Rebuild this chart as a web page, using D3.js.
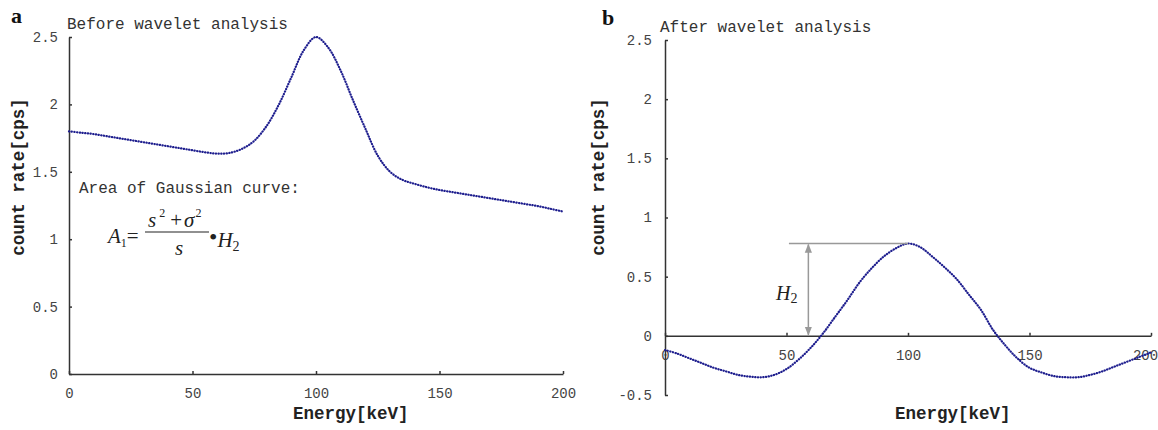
<!DOCTYPE html>
<html>
<head>
<meta charset="utf-8">
<script src="https://d3js.org/d3.v7.min.js"></script>
<style>
body { margin: 0; background: #fff; }
svg { display: block; }
.axis path, .axis line { stroke: #333; stroke-width: 1.5; fill: none; }
.axis text { font-family: "Liberation Mono", monospace; font-size: 14px; fill: #444; }
.title { font-family: "Liberation Mono", monospace; font-size: 16px; fill: #333; }
.alabel { font-family: "Liberation Mono", monospace; font-size: 17.5px; font-weight: bold; fill: #222; }
.panel { font-family: "Liberation Serif", serif; font-size: 22px; font-weight: bold; fill: #111; }
.math { font-family: "Liberation Serif", serif; font-style: italic; fill: #222; }
.curve { fill: none; stroke: #1e1e8e; stroke-width: 2.2; stroke-linecap: round; stroke-dasharray: 0.3 2.4; }
</style>
</head>
<body>
<script>

// energy axis (keV), one sample every 5 keV
var energy = d3.range(0, 201, 5);

// panel a: spectrum before wavelet analysis
var before = [1.80, 1.79, 1.78, 1.765, 1.75, 1.735, 1.72, 1.705, 1.69, 1.675,
              1.66, 1.645, 1.635, 1.64, 1.67, 1.73, 1.84, 2.0, 2.2, 2.4,
              2.5, 2.42, 2.25, 2.03, 1.82, 1.62, 1.5, 1.44, 1.41, 1.385,
              1.365, 1.35, 1.335, 1.32, 1.305, 1.29, 1.275, 1.26, 1.245, 1.225, 1.205];

// panel b: after wavelet analysis
var after = [-0.12, -0.15, -0.19, -0.23, -0.27, -0.30, -0.33, -0.345, -0.35, -0.33,
             -0.28, -0.20, -0.10, 0.02, 0.16, 0.30, 0.45, 0.57, 0.67, 0.74,
             0.78, 0.75, 0.67, 0.58, 0.48, 0.35, 0.22, 0.05, -0.08, -0.19,
             -0.27, -0.31, -0.34, -0.35, -0.35, -0.33, -0.30, -0.26, -0.22, -0.18, -0.14];

var xTicks = [0, 50, 100, 150, 200];
var yTicksA = [0, 0.5, 1, 1.5, 2, 2.5];
var yTicksB = [-0.5, 0, 0.5, 1, 1.5, 2, 2.5];

// H2 marker in panel b (energy of the arrow and start of the guide line)
var h2Arrow = 59, h2LineFrom = 51;

var svg = d3.select("body").append("svg")
    .attr("width", 1158)
    .attr("height", 430);

var defs = svg.append("defs");
defs.append("marker")
    .attr("id", "ah")
    .attr("viewBox", "0 0 10 10")
    .attr("refX", 9).attr("refY", 5)
    .attr("markerWidth", 9).attr("markerHeight", 9)
    .attr("markerUnits", "userSpaceOnUse")
    .attr("orient", "auto-start-reverse")
  .append("path")
    .attr("d", "M0,1 L10,5 L0,9 Z")
    .attr("fill", "#999");

var xa = d3.scaleLinear().domain([0, 200]).range([69, 563]),
    ya = d3.scaleLinear().domain([0, 2.5]).range([374, 37]);
var xb = d3.scaleLinear().domain([0, 200]).range([665, 1151]),
    yb = d3.scaleLinear().domain([-0.5, 2.5]).range([395, 40]);

function fmt(d) { return String(d); }

function drawPanel(x, y, yTicks, values, xPad, yPad) {
  var g = svg.append("g");

  var gx = g.append("g")
      .attr("class", "axis")
      .attr("transform", "translate(0," + y(0) + ")")
      .call(d3.axisBottom(x).tickValues(xTicks).tickFormat(fmt)
            .tickSizeInner(-3).tickSizeOuter(0).tickPadding(xPad));

  // keep the last label inside the picture
  gx.selectAll(".tick text").filter(function(d) { return d === 200; })
      .attr("dx", x(200) > 1100 ? -6 : 0);

  g.append("g")
      .attr("class", "axis")
      .attr("transform", "translate(" + x(0) + ",0)")
      .call(d3.axisLeft(y).tickValues(yTicks).tickFormat(fmt)
            .tickSizeInner(-3).tickSizeOuter(0).tickPadding(yPad));

  var line = d3.line()
      .x(function(d, i) { return x(energy[i]); })
      .y(function(d) { return y(d); })
      .curve(d3.curveCatmullRom.alpha(0.5));

  g.append("path")
      .datum(values)
      .attr("class", "curve")
      .attr("d", line);
  return g;
}

drawPanel(xa, ya, yTicksA, before, 14, 11);
drawPanel(xb, yb, yTicksB, after, 14, 13);

// panel letters and titles
svg.append("text").attr("class", "panel").attr("x", 11).attr("y", 23).text("a");
svg.append("text").attr("class", "panel").attr("x", 602).attr("y", 25).text("b");
svg.append("text").attr("class", "title").attr("x", 67).attr("y", 29).text("Before wavelet analysis");
svg.append("text").attr("class", "title").attr("x", 660).attr("y", 32).text("After wavelet analysis");

// axis labels
svg.append("text").attr("class", "alabel").attr("x", 293).attr("y", 419).text("Energy[keV]");
svg.append("text").attr("class", "alabel").attr("x", 895).attr("y", 419).text("Energy[keV]");
[24, 604].forEach(function(cx) {
  svg.append("text")
      .attr("class", "alabel")
      .attr("text-anchor", "middle")
      .attr("transform", "translate(" + cx + ",177) rotate(-90)")
      .text("count rate[cps]");
});

// panel a: area formula
svg.append("text").attr("class", "title").attr("x", 79).attr("y", 193).text("Area of Gaussian curve:");

var f = svg.append("g").attr("class", "math");
var t1 = f.append("text").attr("x", 108).attr("y", 243).style("font-size", "21px");
t1.append("tspan").text("A");
t1.append("tspan").attr("dy", 4).style("font-size", "12px").style("font-style", "normal").text("1");
t1.append("tspan").attr("dy", -4).style("font-style", "normal").text("=");

var num = f.append("text").attr("x", 148).attr("y", 227).style("font-size", "21px");
num.append("tspan").text("s");
num.append("tspan").attr("dy", -10).attr("dx", 3).style("font-size", "12px").style("font-style", "normal").text("2");
num.append("tspan").attr("dy", 10).attr("dx", 5).style("font-style", "normal").text("+");
num.append("tspan").attr("dx", 2).text("σ");
num.append("tspan").attr("dy", -10).attr("dx", 1).style("font-size", "12px").style("font-style", "normal").text("2");

f.append("line")
    .attr("x1", 145).attr("x2", 209)
    .attr("y1", 232).attr("y2", 232)
    .attr("stroke", "#222").attr("stroke-width", 1.2);

f.append("text").attr("x", 175).attr("y", 255).style("font-size", "21px").text("s");

var t2 = f.append("text").attr("x", 209).attr("y", 247).style("font-size", "21px");
t2.append("tspan").style("font-style", "normal").style("font-size", "24px").attr("dy", -2).text("•");
t2.append("tspan").attr("dy", 2).text("H");
t2.append("tspan").attr("dy", 4).style("font-size", "14px").style("font-style", "normal").text("2");

// panel b: H2 height marker
var peak = d3.max(after);
var peakAt = energy[after.indexOf(peak)];

svg.append("line")
    .attr("x1", xb(h2LineFrom)).attr("x2", xb(peakAt))
    .attr("y1", yb(peak)).attr("y2", yb(peak))
    .attr("stroke", "#999").attr("stroke-width", 1.5);

svg.append("line")
    .attr("x1", xb(h2Arrow)).attr("x2", xb(h2Arrow))
    .attr("y1", yb(peak) + 1).attr("y2", yb(0) - 1)
    .attr("stroke", "#999").attr("stroke-width", 1.5)
    .attr("marker-start", "url(#ah)")
    .attr("marker-end", "url(#ah)");

var h2 = svg.append("text").attr("class", "math")
    .attr("x", 776).attr("y", 300).style("font-size", "20px");
h2.append("tspan").text("H");
h2.append("tspan").attr("dy", 3).style("font-size", "14px").style("font-style", "normal").text("2");

</script>
</body>
</html>
